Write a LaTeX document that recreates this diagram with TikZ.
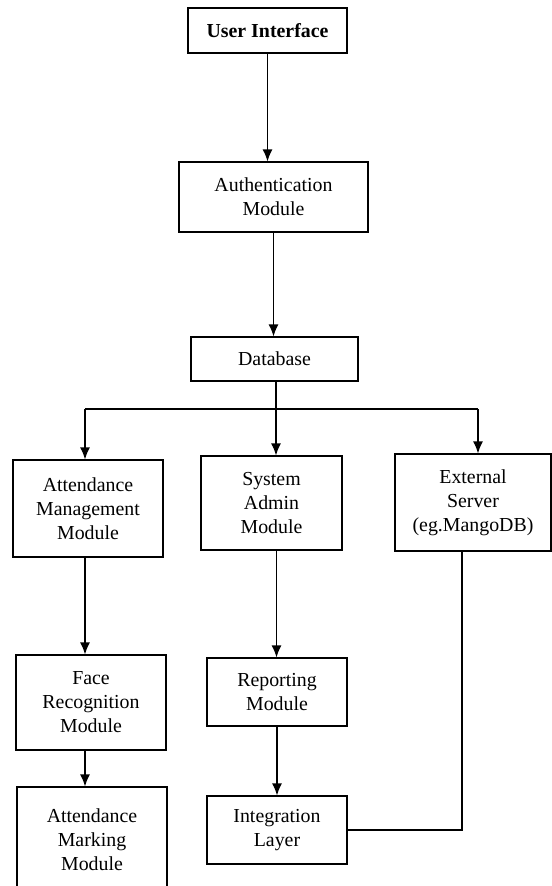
\documentclass[tikz,border=0pt]{standalone}
\usepackage{fontspec}
\setmainfont{Liberation Serif}
\usetikzlibrary{arrows.meta}

\begin{document}
\begin{tikzpicture}[
    box/.style={draw, line width=0.7pt, align=center, inner sep=2pt,
        font=\fontsize{11.3}{13.7}\selectfont},
    >={Latex[length=2.4mm,width=2mm]}, line width=0.7pt]

\useasboundingbox (0,0) rectangle (11.02,-17.72);

% nodes
\node[box, minimum width=3.18cm, minimum height=0.9cm] (ui) at (5.35,-0.61) {\textbf{User Interface}};
\node[box, minimum width=3.78cm, minimum height=1.4cm] (auth) at (5.47,-3.94) {Authentication\\Module};
\node[box, minimum width=3.34cm, minimum height=0.88cm] (db) at (5.49,-7.18) {Database};

\node[box, minimum width=3cm, minimum height=1.94cm] (attm) at (1.76,-10.17) {Attendance\\Management\\Module};
\node[box, minimum width=2.82cm, minimum height=1.88cm] (sys) at (5.43,-10.06) {System\\Admin\\Module};
\node[box, minimum width=3.12cm, minimum height=1.94cm] (ext) at (9.46,-10.05) {External\\Server\\(eg.MangoDB)};

\node[box, minimum width=3cm, minimum height=1.9cm] (face) at (1.82,-14.05) {Face\\Recognition\\Module};
\node[box, minimum width=3cm, minimum height=2.1cm] (mark) at (1.84,-16.79) {Attendance\\Marking\\Module};
\node[box, minimum width=2.8cm, minimum height=1.36cm] (rep) at (5.54,-13.84) {Reporting\\Module};
\node[box, minimum width=2.8cm, minimum height=1.36cm] (integ) at (5.54,-16.6) {Integration\\Layer};

\coordinate (brl) at (1.7,-8.18);
\coordinate (brr) at (9.56,-8.18);

% arrows
\draw[->] (ui.south) -- (ui.south |- auth.north);
\draw[->] (auth.south) -- (auth.south |- db.north);

\draw[->] ([xshift=0.03cm]db.south) -- ([xshift=0.03cm]db.south |- sys.north);
\draw (brl) -- (brr);
\draw[->] (brl) -- (brl |- attm.north);
\draw[->] (brr) -- (brr |- ext.north);

\draw[->] ([xshift=-0.06cm]attm.south) -- ([xshift=-0.06cm]attm.south |- face.north);
\draw[->] ([xshift=-0.12cm]face.south) -- ([xshift=-0.12cm]face.south |- mark.north);

\draw[->] ([xshift=0.1cm]sys.south) -- ([xshift=0.1cm]sys.south |- rep.north);
\draw[->] (rep.south) -- (integ.north);
\draw (integ.east) -| ([xshift=-0.22cm]ext.south);

\end{tikzpicture}
\end{document}
